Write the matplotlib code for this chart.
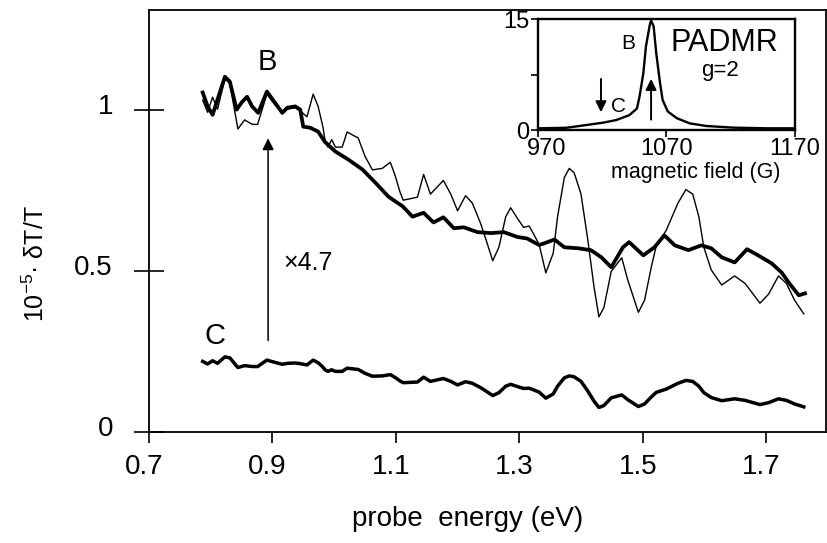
import matplotlib
matplotlib.use("Agg")
import matplotlib.pyplot as plt
import matplotlib.transforms as mtransforms
import numpy as np

plt.rcParams['font.family'] = ['Liberation Sans', 'DejaVu Sans']
plt.rcParams['mathtext.fontset'] = 'custom'
plt.rcParams['mathtext.rm'] = 'Liberation Sans'
plt.rcParams['mathtext.it'] = 'Liberation Sans:italic'

# ---- data: spectrum B (probe energy eV, 1e-5 dT/T) ----
b_energy = [0.787, 0.795, 0.803, 0.811, 0.823, 0.831, 0.842, 0.850, 0.859, 0.867,
            0.877, 0.891, 0.904, 0.916, 0.924, 0.937, 0.945, 0.950, 0.961, 0.974,
            0.985, 1.002, 1.023, 1.046, 1.067, 1.088, 1.111, 1.127, 1.145, 1.161,
            1.177, 1.194, 1.210, 1.232, 1.254, 1.275, 1.297, 1.313, 1.332, 1.340,
            1.357, 1.373, 1.395, 1.416, 1.433, 1.449, 1.468, 1.478, 1.501, 1.519,
            1.535, 1.552, 1.574, 1.595, 1.611, 1.628, 1.649, 1.669, 1.687, 1.709,
            1.725, 1.738, 1.753, 1.763]
b_signal = [1.053, 1.010, 0.984, 1.031, 1.102, 1.087, 1.000, 1.022, 1.040, 1.010,
            0.990, 1.056, 1.022, 0.990, 1.006, 1.010, 1.000, 0.947, 0.944, 0.932,
            0.900, 0.870, 0.845, 0.814, 0.773, 0.730, 0.700, 0.668, 0.680, 0.650,
            0.666, 0.632, 0.635, 0.620, 0.617, 0.620, 0.605, 0.600, 0.580, 0.585,
            0.597, 0.573, 0.570, 0.564, 0.542, 0.511, 0.573, 0.589, 0.548, 0.573,
            0.610, 0.579, 0.564, 0.579, 0.570, 0.542, 0.526, 0.567, 0.548, 0.523,
            0.495, 0.460, 0.424, 0.430]

# ---- data: spectrum C (probe energy eV, 1e-5 dT/T) ----
c_energy = [0.787, 0.795, 0.803, 0.811, 0.823, 0.831, 0.844, 0.855, 0.863, 0.868,
            0.876, 0.891, 0.904, 0.916, 0.924, 0.937, 0.945, 0.956, 0.966, 0.974,
            0.982, 0.985, 0.990, 0.996, 1.002, 1.013, 1.021, 1.030, 1.039, 1.050,
            1.062, 1.078, 1.091, 1.099, 1.107, 1.112, 1.124, 1.135, 1.145, 1.156,
            1.177, 1.189, 1.200, 1.213, 1.224, 1.237, 1.246, 1.257, 1.267, 1.278,
            1.286, 1.297, 1.307, 1.316, 1.332, 1.343, 1.355, 1.362, 1.373, 1.381,
            1.389, 1.400, 1.411, 1.421, 1.429, 1.437, 1.449, 1.466, 1.476, 1.493,
            1.503, 1.514, 1.522, 1.538, 1.557, 1.570, 1.581, 1.591, 1.599, 1.611,
            1.628, 1.649, 1.666, 1.690, 1.704, 1.720, 1.733, 1.746, 1.761]
c_signal = [0.219, 0.211, 0.221, 0.213, 0.233, 0.230, 0.200, 0.206, 0.204, 0.203,
            0.203, 0.223, 0.216, 0.210, 0.213, 0.214, 0.212, 0.208, 0.223, 0.215,
            0.201, 0.193, 0.188, 0.193, 0.188, 0.188, 0.198, 0.196, 0.194, 0.182,
            0.173, 0.174, 0.178, 0.169, 0.158, 0.153, 0.154, 0.155, 0.170, 0.157,
            0.166, 0.157, 0.146, 0.156, 0.151, 0.138, 0.127, 0.113, 0.122, 0.142,
            0.148, 0.141, 0.135, 0.136, 0.124, 0.105, 0.118, 0.142, 0.168, 0.174,
            0.171, 0.157, 0.127, 0.096, 0.076, 0.082, 0.106, 0.115, 0.100, 0.079,
            0.087, 0.109, 0.123, 0.133, 0.151, 0.160, 0.157, 0.142, 0.122, 0.107,
            0.097, 0.103, 0.098, 0.085, 0.091, 0.103, 0.098, 0.087, 0.078]
c_scale = 4.7

# ---- inset data: PADMR vs magnetic field ----
field = [971, 992, 1008, 1021, 1031, 1041, 1047, 1049, 1052, 1054, 1057, 1058,
         1060, 1062, 1065, 1067, 1071, 1078, 1088, 1101, 1122, 1148, 1169]
padmr = [0.23, 0.30, 0.68, 1.0, 1.35, 2.0, 2.9, 4.5, 7.7, 11.3, 14.2, 14.8,
         14.0, 10.4, 6.3, 4.05, 2.5, 1.6, 0.9, 0.54, 0.32, 0.23, 0.23]

W, H = 828, 543
fig = plt.figure(figsize=(W / 100, H / 100), dpi=100)
fig.patch.set_facecolor('white')

ax = fig.add_axes([149 / W, 1 - 432 / H, (826 - 149) / W, (432 - 10) / H])
ax.plot(b_energy, b_signal, color='black', lw=2.7, solid_joinstyle='round')
ax.plot(c_energy, np.array(c_signal) * c_scale, color='black', lw=1.0)
ax.plot(c_energy, c_signal, color='black', lw=2.5, solid_joinstyle='round')

ax.set_xlim(0.7, 1.797)
ax.set_ylim(0, 1.309)
ax.set_xticks([0.7, 0.9, 1.1, 1.3, 1.5, 1.7])
ax.set_xticklabels(['0.7', '0.9', '1.1', '1.3', '1.5', '1.7'])
ax.set_yticks([0, 0.5, 1])
ax.set_yticklabels(['0', '0.5', '1'])
ax.tick_params(axis='y', direction='inout', length=22, width=1.2, labelsize=20, pad=15)
ax.tick_params(axis='x', direction='out', length=8, width=1.2, labelsize=20, pad=8)
for s in ax.spines.values():
    s.set_linewidth(1.3)
for lab in ax.get_yticklabels():
    lab.set_transform(lab.get_transform() +
                      mtransforms.ScaledTranslation(0, 0.06, fig.dpi_scale_trans))
for lab in ax.get_xticklabels():
    lab.set_transform(lab.get_transform() +
                      mtransforms.ScaledTranslation(-0.05, 0, fig.dpi_scale_trans))

ax.set_xlabel('probe  energy (eV)', fontsize=20)
ax.xaxis.set_label_coords(0.471, -0.176)
ax.set_ylabel('10$^{\\mathregular{-5}}$· δT/T', fontsize=18)
ax.yaxis.set_label_coords(-0.147, 0.40)

ax.text(0.891, 1.148, 'B', fontsize=21, ha='center', va='center')
ax.text(0.807, 0.297, 'C', fontsize=21, ha='center', va='center')
ax.text(0.958, 0.523, '×4.7', fontsize=18, ha='center', va='center')
ax.annotate('', xy=(0.893, 0.911), xytext=(0.893, 0.284),
            arrowprops=dict(arrowstyle='-|>', lw=1.1, color='black',
                            mutation_scale=17, shrinkA=0, shrinkB=0))

# ---- inset ----
ins = fig.add_axes([538 / W, 1 - 130 / H, 257 / W, 111 / H])
ins.plot(field, padmr, color='black', lw=1.7)
ins.set_xlim(970, 1170)
ins.set_ylim(0, 15)
ins.set_xticks([970, 1070, 1170])
ins.set_xticklabels(['970', '1070', '1170'])
ins.set_yticks([0, 15])
ins.set_yticklabels(['0', '15'])
ins.set_yticks([7.5], minor=True)
ins.tick_params(axis='both', which='both', direction='out', length=5, width=1.2,
                labelsize=17, pad=1)
for s in ins.spines.values():
    s.set_linewidth(1.7)
first = ins.get_xticklabels()[0]
first.set_transform(first.get_transform() +
                    mtransforms.ScaledTranslation(0.09, 0, fig.dpi_scale_trans))
ins.set_xlabel('magnetic field (G)', fontsize=15.5)
ins.xaxis.set_label_coords(0.615, -0.29)
ins.text(1040, 11.7, 'B', fontsize=15, ha='center', va='center')
ins.text(1033, 3.2, 'C', fontsize=15, ha='center', va='center')
ins.text(1115, 11.7, 'PADMR', fontsize=22, ha='center', va='center')
ins.text(1112, 8.1, 'g=2', fontsize=16, ha='center', va='center')
ins.annotate('', xy=(1019, 2.4), xytext=(1019, 6.9),
             arrowprops=dict(arrowstyle='-|>', lw=1.4, color='black',
                             mutation_scale=16, shrinkA=0, shrinkB=0))
ins.annotate('', xy=(1058, 6.9), xytext=(1058, 1.4),
             arrowprops=dict(arrowstyle='-|>', lw=1.4, color='black',
                             mutation_scale=16, shrinkA=0, shrinkB=0))

fig.savefig('out.png', dpi=100, facecolor='white')
